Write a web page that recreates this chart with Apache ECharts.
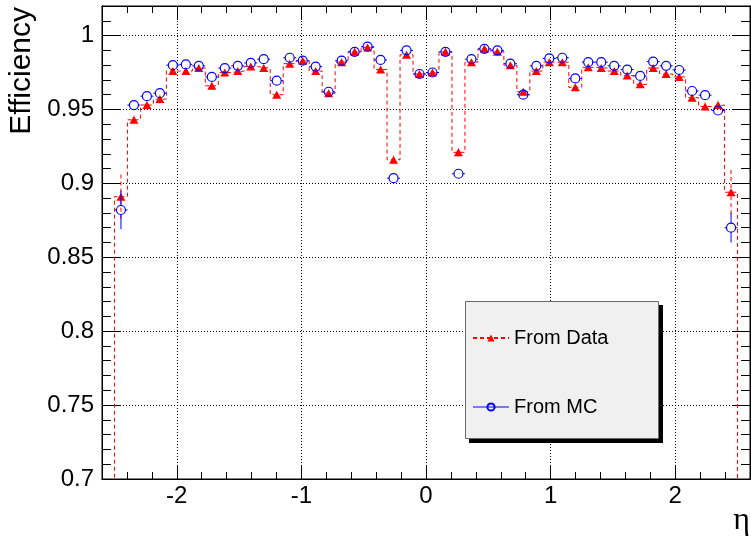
<!DOCTYPE html>
<html><head><meta charset="utf-8">
<script src="https://cdn.jsdelivr.net/npm/echarts@6/dist/echarts.min.js"></script>
<style>html,body{margin:0;padding:0;background:#fff}#c{width:751px;height:538px}</style>
</head><body><div id="c"></div>
<script>
// ---- binning (eta) ----
const etaMin = -2.5, etaMax = 2.5, nBins = 48;
// ---- efficiency from data (red triangles), per bin ----
const dataEff = [0.891, 0.943, 0.953, 0.957, 0.976, 0.976, 0.978, 0.966, 0.975, 0.976, 0.979, 0.978,
                 0.960, 0.981, 0.983, 0.976, 0.961, 0.982, 0.989, 0.992, 0.977, 0.916, 0.987, 0.974,
                 0.975, 0.989, 0.921, 0.982, 0.991, 0.989, 0.980, 0.962, 0.976, 0.982, 0.982, 0.965,
                 0.9785, 0.978, 0.976, 0.973, 0.967, 0.978, 0.974, 0.972, 0.958, 0.952, 0.953, 0.894];
const dataErr = [0.015, 0.003, 0.003, 0.003, 0.002, 0.002, 0.002, 0.002, 0.002, 0.002, 0.002, 0.002,
                 0.002, 0.002, 0.002, 0.002, 0.002, 0.002, 0.002, 0.002, 0.002, 0.003, 0.002, 0.002,
                 0.002, 0.002, 0.003, 0.002, 0.002, 0.002, 0.002, 0.002, 0.002, 0.002, 0.002, 0.002,
                 0.002, 0.002, 0.002, 0.002, 0.002, 0.002, 0.002, 0.002, 0.002, 0.003, 0.003, 0.015];
// ---- efficiency from MC (blue open circles), per bin ----
const mcEff = [0.882, 0.953, 0.959, 0.961, 0.980, 0.9805, 0.9795, 0.972, 0.978, 0.9795, 0.9815, 0.984,
               0.9695, 0.985, 0.983, 0.979, 0.962, 0.983, 0.989, 0.9925, 0.9835, 0.9035, 0.990, 0.974,
               0.975, 0.989, 0.9065, 0.984, 0.991, 0.990, 0.981, 0.960, 0.9795, 0.9845, 0.985, 0.971,
               0.982, 0.982, 0.9795, 0.977, 0.9727, 0.9824, 0.9795, 0.9767, 0.9625, 0.9597, 0.9493, 0.870];
const mcErr = [0.013, 0.003, 0.003, 0.003, 0.002, 0.002, 0.002, 0.002, 0.002, 0.002, 0.002, 0.002,
               0.002, 0.002, 0.002, 0.002, 0.002, 0.002, 0.002, 0.002, 0.002, 0.003, 0.002, 0.002,
               0.002, 0.002, 0.003, 0.002, 0.002, 0.002, 0.002, 0.002, 0.002, 0.002, 0.002, 0.002,
               0.002, 0.002, 0.002, 0.002, 0.002, 0.002, 0.002, 0.002, 0.002, 0.003, 0.003, 0.010];
// ---- tick labels ----
const xTickValues = [-2, -1, 0, 1, 2];
const yTickValues = [0.7, 0.75, 0.8, 0.85, 0.9, 0.95, 1];
const legendNames = ['From Data', 'From MC'];

const binW = (etaMax - etaMin) / nBins;
const centers = dataEff.map((_, i) => etaMin + (i + 0.5) * binW);
const stepPts = [[etaMin, 0]];
dataEff.forEach((v, i) => { stepPts.push([etaMin + i * binW, v]); stepPts.push([etaMin + (i + 1) * binW, v]); });
stepPts.push([etaMax, 0]);

const FONT = 'Liberation Sans, Arial, Helvetica, sans-serif';
const RED = '#ff0000', BLUE = '#0000ff';

function errRender(color, dash, radius, withX) {
  return function (params, api) {
    const x = api.value(0), y = api.value(1), e = api.value(2);
    const c = api.coord([x, y]);
    const top = api.coord([x, y + e])[1];
    const bot = api.coord([x, y - e])[1];
    const style = { stroke: color, lineWidth: 1, lineDash: dash, fill: null };
    const ch = [];
    if (c[1] - top > radius) ch.push({ type: 'line', shape: { x1: c[0], y1: top, x2: c[0], y2: c[1] - radius }, style });
    if (bot - c[1] > radius) ch.push({ type: 'line', shape: { x1: c[0], y1: c[1] + radius, x2: c[0], y2: bot }, style });
    if (withX) {
      const l = api.coord([x - binW / 2, y])[0], r = api.coord([x + binW / 2, y])[0];
      ch.push({ type: 'line', shape: { x1: l, y1: c[1], x2: c[0] - radius, y2: c[1] }, style });
      ch.push({ type: 'line', shape: { x1: c[0] + radius, y1: c[1], x2: r, y2: c[1] }, style });
    }
    return { type: 'group', children: ch };
  };
}

const blk = { color: '#000', width: 1 };
function xAx(pos, major, extra) {
  return Object.assign({
    type: 'value', min: -2.6, max: 2.6, interval: 0.2, position: pos,
    axisLine: { show: true, onZero: false, lineStyle: blk },
    axisTick: major ? { show: true, inside: true, length: 14, customValues: xTickValues, lineStyle: blk }
                    : { show: true, inside: true, length: 7, lineStyle: blk },
    axisLabel: { show: false },
    splitLine: { show: false }
  }, extra || {});
}
function yAx(pos, major, extra) {
  return Object.assign({
    type: 'value', min: 0.7, max: 1.02, interval: major ? 0.05 : 0.01, position: pos,
    axisLine: { show: true, onZero: false, lineStyle: blk },
    axisTick: major ? { show: true, inside: true, length: 18, customValues: yTickValues, lineStyle: blk }
                    : { show: true, inside: true, length: 9, lineStyle: blk },
    axisLabel: { show: false },
    splitLine: { show: false }
  }, extra || {});
}

const option = {
  animation: false,
  backgroundColor: '#fff',
  textStyle: { fontFamily: FONT },
  grid: { left: 102, right: 1, top: 6, bottom: 59, show: true, borderColor: '#000', borderWidth: 1,
          containLabel: false, outerBoundsMode: 'none' },
  graphic: [
    { type: 'rect', z: 20, shape: { x: 469, y: 305, width: 194, height: 138 }, style: { fill: '#000' } },
    { type: 'rect', z: 21, shape: { x: 465.5, y: 301.5, width: 193, height: 137 },
      style: { fill: '#f0f0f0', stroke: '#6a6a6a', lineWidth: 1 } }
  ],
  xAxis: [
    xAx('bottom', false, {
      name: 'η', nameLocation: 'end', nameGap: 0, nameMoveOverlap: false,
      nameTextStyle: { fontSize: 32, fontFamily: 'Liberation Serif, serif', color: '#000', align: 'right', verticalAlign: 'top', padding: [26, 0, 0, 0] },
      axisLabel: { show: true, customValues: xTickValues, fontSize: 24, margin: 5, color: '#000', fontFamily: FONT,
                   formatter: v => (Math.abs(v - Math.round(v)) < 1e-6 ? String(Math.round(v)) : '') }
    }),
    xAx('bottom', true, { splitLine: { show: true, lineStyle: { color: '#000', width: 1, type: [1, 2] } } }),
    xAx('top', false),
    xAx('top', true)
  ],
  yAxis: [
    yAx('left', false, {
      name: 'Efficiency', nameLocation: 'end', nameRotate: 90, nameGap: -1, nameMoveOverlap: false,
      nameTextStyle: { fontSize: 30, color: '#000', fontFamily: FONT, align: 'right', verticalAlign: 'bottom', padding: [0, 0, 65, 0] }
    }),
    yAx('left', true, {
      axisLabel: { show: true, customValues: yTickValues, fontSize: 24, margin: 8, color: '#000', fontFamily: FONT,
                   formatter: v => (v > 1.001 ? '' : String(+v.toFixed(2))) },
      splitLine: { show: true, lineStyle: { color: '#000', width: 1, type: [1, 2] } }
    }),
    yAx('right', false),
    yAx('right', true)
  ],
  legend: {
    left: 465, top: 301, orient: 'vertical', selectedMode: false, z: 30,
    padding: [27, 10, 10, 7], itemGap: 49, itemWidth: 36, itemHeight: 9,
    backgroundColor: 'transparent', borderWidth: 0,
    textStyle: { fontSize: 20, color: '#000', fontFamily: FONT },
    data: [
      { name: legendNames[0] },
      { name: legendNames[1], lineStyle: { color: BLUE, width: 1, opacity: 1, type: 'solid' } }
    ]
  },
  series: [
    { name: legendNames[0], type: 'line', xAxisIndex: 0, yAxisIndex: 0, data: stepPts,
      symbol: 'triangle', symbolSize: [9, 8], showSymbol: false, clip: true, z: 2,
      itemStyle: { color: RED }, lineStyle: { color: RED, width: 1, type: [4, 3] } },
    { name: 'dataErr', type: 'custom', xAxisIndex: 0, yAxisIndex: 0, z: 3, clip: true,
      data: centers.map((c, i) => [c, dataEff[i], dataErr[i]]),
      encode: { x: 0, y: 1 }, renderItem: errRender(RED, [4, 3], 4, false) },
    { name: 'dataPts', type: 'scatter', xAxisIndex: 0, yAxisIndex: 0, z: 4,
      data: centers.map((c, i) => [c, dataEff[i]]), symbol: 'triangle', symbolSize: [9, 8],
      itemStyle: { color: RED, opacity: 1 } },
    { name: 'mcErr', type: 'custom', xAxisIndex: 0, yAxisIndex: 0, z: 5, clip: true,
      data: centers.map((c, i) => [c, mcEff[i], mcErr[i]]),
      encode: { x: 0, y: 1 }, renderItem: errRender(BLUE, null, 4.5, true) },
    { name: legendNames[1], type: 'line', xAxisIndex: 0, yAxisIndex: 0, z: 6,
      data: centers.map((c, i) => [c, mcEff[i]]), symbol: 'circle', symbolSize: 9, showSymbol: true,
      color: BLUE,
      itemStyle: { color: 'rgba(0,0,0,0)', borderColor: BLUE, borderWidth: 1.2 },
      lineStyle: { color: BLUE, width: 1, opacity: 0 } }
  ]
};
const chart = echarts.init(document.getElementById('c'), null, { renderer: 'canvas' });
chart.setOption(option);
</script></body></html>
